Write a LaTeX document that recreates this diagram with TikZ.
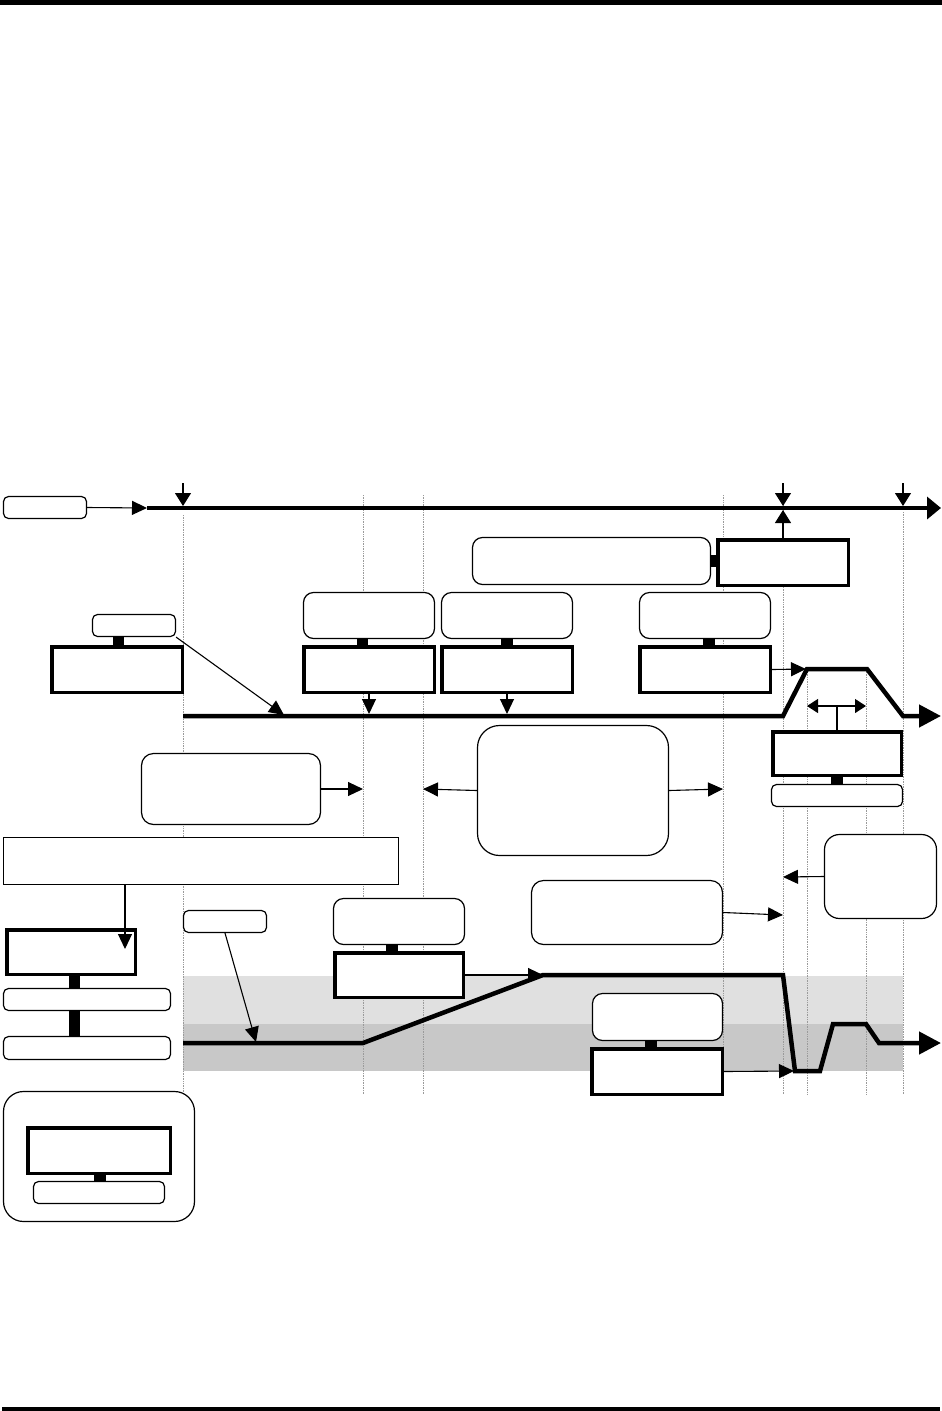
\documentclass[tikz,border=0pt]{standalone}
\usetikzlibrary{arrows.meta}
\definecolor{bandL}{HTML}{E0E0E0}
\definecolor{bandD}{HTML}{C8C8C8}
\definecolor{dotgray}{HTML}{9A9A9A}
\begin{document}
\begin{tikzpicture}[x=1pt,y=-1pt,
  rbox/.style={draw, fill=white, line width=1.2pt, rounded corners=#1, inner sep=0pt},
  rbox/.default=8pt,
  tbox/.style={draw, fill=white, line width=3.5pt, inner sep=0pt},
  plainbox/.style={draw, fill=white, line width=1.2pt, inner sep=0pt},
  arr/.style={line width=1.1pt, -{Triangle[length=15pt,width=14pt]}},
  darr/.style={line width=1.1pt, -{Triangle[length=13pt,width=16pt]}},
  sarr/.style={line width=1.1pt, {Triangle[length=11pt,width=14pt]}-{Triangle[length=11pt,width=14pt]}},
  thickline/.style={line width=4.5pt, line join=miter, -{Triangle[length=22pt,width=22pt]}},
  dotline/.style={dotgray, line width=0.7pt, densely dotted}
]
\useasboundingbox (0,0) rectangle (942,1411);
% page rules
\fill (0,0) rectangle (942,5);
\fill (2,1407) rectangle (940,1411);

% grey bands
\fill[bandL] (183,976) rectangle (903,1024);
\fill[bandD] (183,1024) rectangle (903,1071);

% dotted guides
\draw[dotline] (183,515) -- (183,1095);
\draw[dotline] (363,495) -- (363,1095);
\draw[dotline] (423,495) -- (423,1095);
\draw[dotline] (723,495) -- (723,1095);
\draw[dotline] (783,495) -- (783,1095);
\draw[dotline] (807,672) -- (807,1095);
\draw[dotline] (866,672) -- (866,1095);
\draw[dotline] (903,512) -- (903,1095);

% timelines
\coordinate (t0) at (147,508);
\coordinate (t1) at (941,508);
\draw[line width=4.5pt, -{Triangle[length=14pt,width=22pt]}] (t0) -- (t1);

\coordinate (l2a) at (183,716);
\coordinate (l2b) at (941,716);
\draw[thickline] (l2a) -- (783,716) -- (807,669) -- (867,669) -- (903,716) -- (l2b);

\coordinate (l3a) at (183,1043);
\coordinate (l3b) at (941,1043);
\draw[thickline] (l3a) -- (363,1043) -- (543,975) -- (783,975) -- (795,1071) -- (820,1071) -- (833,1024) -- (866,1024) -- (879,1043) -- (l3b);

% boxes
\node[rbox=5pt, minimum width=83pt, minimum height=22pt] (start) at (45,507.5) {};
\node[rbox=5pt, minimum width=83pt, minimum height=22pt] (lab1) at (134,625.5) {};
\node[tbox, minimum width=130.5pt, minimum height=45.5pt] (tb1) at (117,669.5) {};

\node[rbox=10pt, minimum width=131pt, minimum height=46pt] (rA) at (369,615.5) {};
\node[tbox, minimum width=130.5pt, minimum height=45.5pt] (tA) at (369,669.5) {};
\node[rbox=10pt, minimum width=131pt, minimum height=46pt] (rB) at (507,615.5) {};
\node[tbox, minimum width=130.5pt, minimum height=45.5pt] (tB) at (507,669.5) {};
\node[rbox=10pt, minimum width=131pt, minimum height=46pt] (rC) at (705,615.5) {};
\node[tbox, minimum width=130.5pt, minimum height=45.5pt] (tC) at (705,669.5) {};

\node[rbox=10pt, minimum width=238pt, minimum height=47pt] (rW) at (591.5,561) {};
\node[tbox, minimum width=130.5pt, minimum height=45.5pt] (tT) at (783,562.5) {};

\node[tbox, minimum width=128.5pt, minimum height=43.5pt] (tR) at (837,753.5) {};
\node[rbox=5pt, minimum width=131pt, minimum height=22pt] (rR) at (837,795.5) {};

\node[rbox=12pt, minimum width=179pt, minimum height=71pt] (rL3) at (231,789) {};
\node[rbox=22pt, minimum width=191pt, minimum height=130pt] (rBig) at (573,790.5) {};
\node[rbox=15pt, minimum width=112pt, minimum height=84pt] (rRt) at (880.5,876.5) {};
\node[rbox=12pt, minimum width=191pt, minimum height=64pt] (rMid) at (627,912.5) {};
\node[plainbox, minimum width=395pt, minimum height=47pt] (wide) at (201,861) {};

\node[tbox, minimum width=128.5pt, minimum height=44.5pt] (tL) at (71,952) {};
\node[rbox=5pt, minimum width=167pt, minimum height=22pt] (rL1) at (87,999.5) {};
\node[rbox=5pt, minimum width=167pt, minimum height=23pt] (rL2) at (87,1048) {};

\node[rbox=20pt, minimum width=191pt, minimum height=130pt] (leg) at (99,1156.5) {};
\node[tbox, minimum width=142.5pt, minimum height=45.5pt] (tLeg) at (99,1150.5) {};
\node[rbox=5pt, minimum width=131pt, minimum height=22pt] (rLeg) at (99,1192.5) {};

\node[rbox=5pt, minimum width=83pt, minimum height=22pt] (lab2) at (225,921.5) {};
\node[rbox=10pt, minimum width=131pt, minimum height=46pt] (rM1) at (399,921.5) {};
\node[tbox, minimum width=128.5pt, minimum height=44.5pt] (tM1) at (399,975) {};
\node[rbox=10pt, minimum width=130pt, minimum height=47pt] (rM2) at (657.5,1017) {};
\node[tbox, minimum width=130.5pt, minimum height=45.5pt] (tM2) at (657,1071.5) {};

% stubs
\fill (113,637) rectangle (124,645);
\fill (357,639) rectangle (368,645);
\fill (501,639) rectangle (513,645);
\fill (703,639) rectangle (715,645);
\fill (711,555) rectangle (716,567);
\fill (831,777) rectangle (843,784);
\fill (69,976) rectangle (80,988);
\fill (69,1011) rectangle (80,1036);
\fill (94,1175) rectangle (106,1181);
\fill (386,945) rectangle (398,951);
\fill (645,1041) rectangle (657,1047);

% markers on top timeline
\coordinate (m1) at (183,483); \coordinate (m1t) at (183,506);
\coordinate (m2) at (783,483); \coordinate (m2t) at (783,506);
\coordinate (m3) at (903,483); \coordinate (m3t) at (903,506);
\draw[darr] (m1) -- (m1t);
\draw[darr] (m2) -- (m2t);
\draw[darr] (m3) -- (m3t);
\coordinate (m2u) at (783,510);
\draw[darr] (tT.north) -- (m2u);

% arrows
\draw[arr] (start.east) -- (t0);
\coordinate (p1) at (284,715);
\draw[arr] (lab1.south east) -- (p1);
\coordinate (pA) at (369,714);
\draw[arr] (tA.south) -- (pA);
\coordinate (pB) at (507,714);
\draw[arr] (tB.south) -- (pB);
\coordinate (pC) at (806,669);
\draw[arr] (tC.east) -- (pC);

\coordinate (dl) at (807,706); \coordinate (dr) at (866,706); \coordinate (dm) at (837,706);
\draw[sarr] (dl) -- (dr);
\draw[line width=1.1pt] (dm) -- (tR.north);

\coordinate (q1) at (363,789);
\draw[arr] (rL3.east) -- (q1);
\coordinate (q2) at (423,789);
\draw[arr] (rBig.west) -- (q2);
\coordinate (q3) at (723,789);
\draw[arr] (rBig.east) -- (q3);
\coordinate (q4) at (783,877);
\draw[arr] (rRt.west) -- (q4);
\coordinate (q5) at (783,915);
\draw[arr] (rMid.east) -- (q5);

\coordinate (w1) at (125,949);
\draw[arr] (wide.south -| w1) -- (w1);
\coordinate (lb2) at (225,933);
\coordinate (q6) at (256,1042);
\draw[arr] (lb2) -- (q6);
\coordinate (q7) at (543,975);
\draw[arr] (tM1.east) -- (q7);
\coordinate (q8) at (794,1071);
\draw[arr] (tM2.east) -- (q8);
\end{tikzpicture}
\end{document}
